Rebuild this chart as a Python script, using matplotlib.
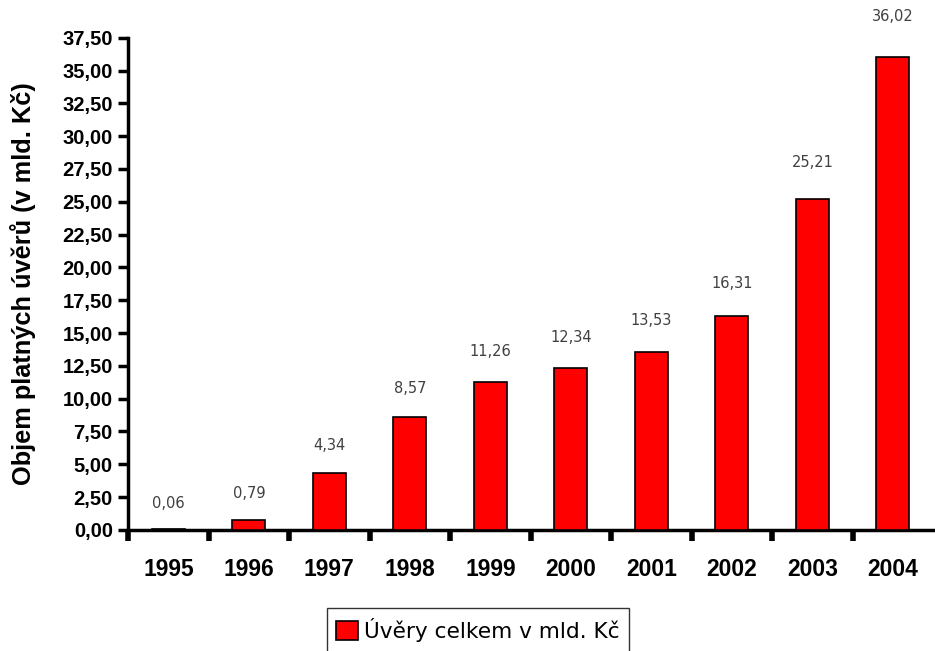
import matplotlib
matplotlib.use("Agg")
import matplotlib.pyplot as plt
from matplotlib import font_manager
import numpy as np

years = ["1995", "1996", "1997", "1998", "1999", "2000", "2001", "2002", "2003", "2004"]
values = [0.06, 0.79, 4.34, 8.57, 11.26, 12.34, 13.53, 16.31, 25.21, 36.02]
ytick_vals = [0, 2.5, 5, 7.5, 10, 12.5, 15, 17.5, 20, 22.5, 25, 27.5, 30, 32.5, 35, 37.5]
ylabel = "Objem platných úvěrů (v mld. Kč)"
legend_label = "Úvěry celkem v mld. Kč"

plt.rcParams['font.family'] = ['DejaVu Sans']

names = {f.name for f in font_manager.fontManager.ttflist}
narrow = 'Liberation Sans Narrow' if 'Liberation Sans Narrow' in names else None

fig = plt.figure(figsize=(9.35, 6.51), dpi=100)
ax = fig.add_axes([0.137, 0.186, 0.861, 0.756])

x = np.arange(len(years))
ax.bar(x, values, width=0.41, color='#ff0000', edgecolor='#000000', linewidth=1.2,
       label=legend_label, zorder=3)

for xi, v in zip(x, values):
    off_px = 26 + 0.4 * v
    ax.annotate(f"{v:.2f}".replace('.', ','), xy=(xi, v), xytext=(0, off_px * 0.72),
                textcoords='offset points', ha='center', va='center',
                fontsize=10.5, color='#404040')

ax.set_xlim(-0.5, len(years) - 0.5)
ax.set_ylim(0, 37.5)
ax.set_yticks(ytick_vals)
ax.set_yticklabels([f"{v:.2f}".replace('.', ',') for v in ytick_vals], fontsize=14.5,
                   fontweight='bold', family=['Liberation Sans', 'DejaVu Sans'])

ax.set_xticks(x)
if narrow:
    ax.set_xticklabels(years, fontsize=20.5, fontweight='bold', family=[narrow, 'DejaVu Sans'])
else:
    ax.set_xticklabels(years, fontsize=16.5, fontweight='bold', family=['Liberation Sans', 'DejaVu Sans'])
ax.tick_params(axis='x', which='major', length=0, pad=20)
ax.set_xticks(np.arange(-0.5, len(years) - 0.5, 1), minor=True)
ax.tick_params(axis='x', which='minor', length=8, width=4, direction='out', color='black')
ax.tick_params(axis='y', length=7, width=2.5, direction='out', pad=4)

for s in ['top', 'right']:
    ax.spines[s].set_visible(False)
for s in ['left', 'bottom']:
    ax.spines[s].set_linewidth(2.5)

ax.set_ylabel(ylabel, fontsize=18.3, fontweight='bold', family=['Liberation Sans', 'DejaVu Sans'])
ax.yaxis.set_label_coords(-0.115, 0.5, transform=ax.transAxes)

leg = fig.legend(loc='upper center', bbox_to_anchor=(0.511, 0.066), fontsize=15.6, frameon=True,
                 fancybox=False, edgecolor='black', handlelength=1.0, handleheight=1.0,
                 handletextpad=0.25, borderpad=0.45, borderaxespad=0)
leg.get_frame().set_linewidth(1.0)

fig.savefig("out.png", dpi=100)
